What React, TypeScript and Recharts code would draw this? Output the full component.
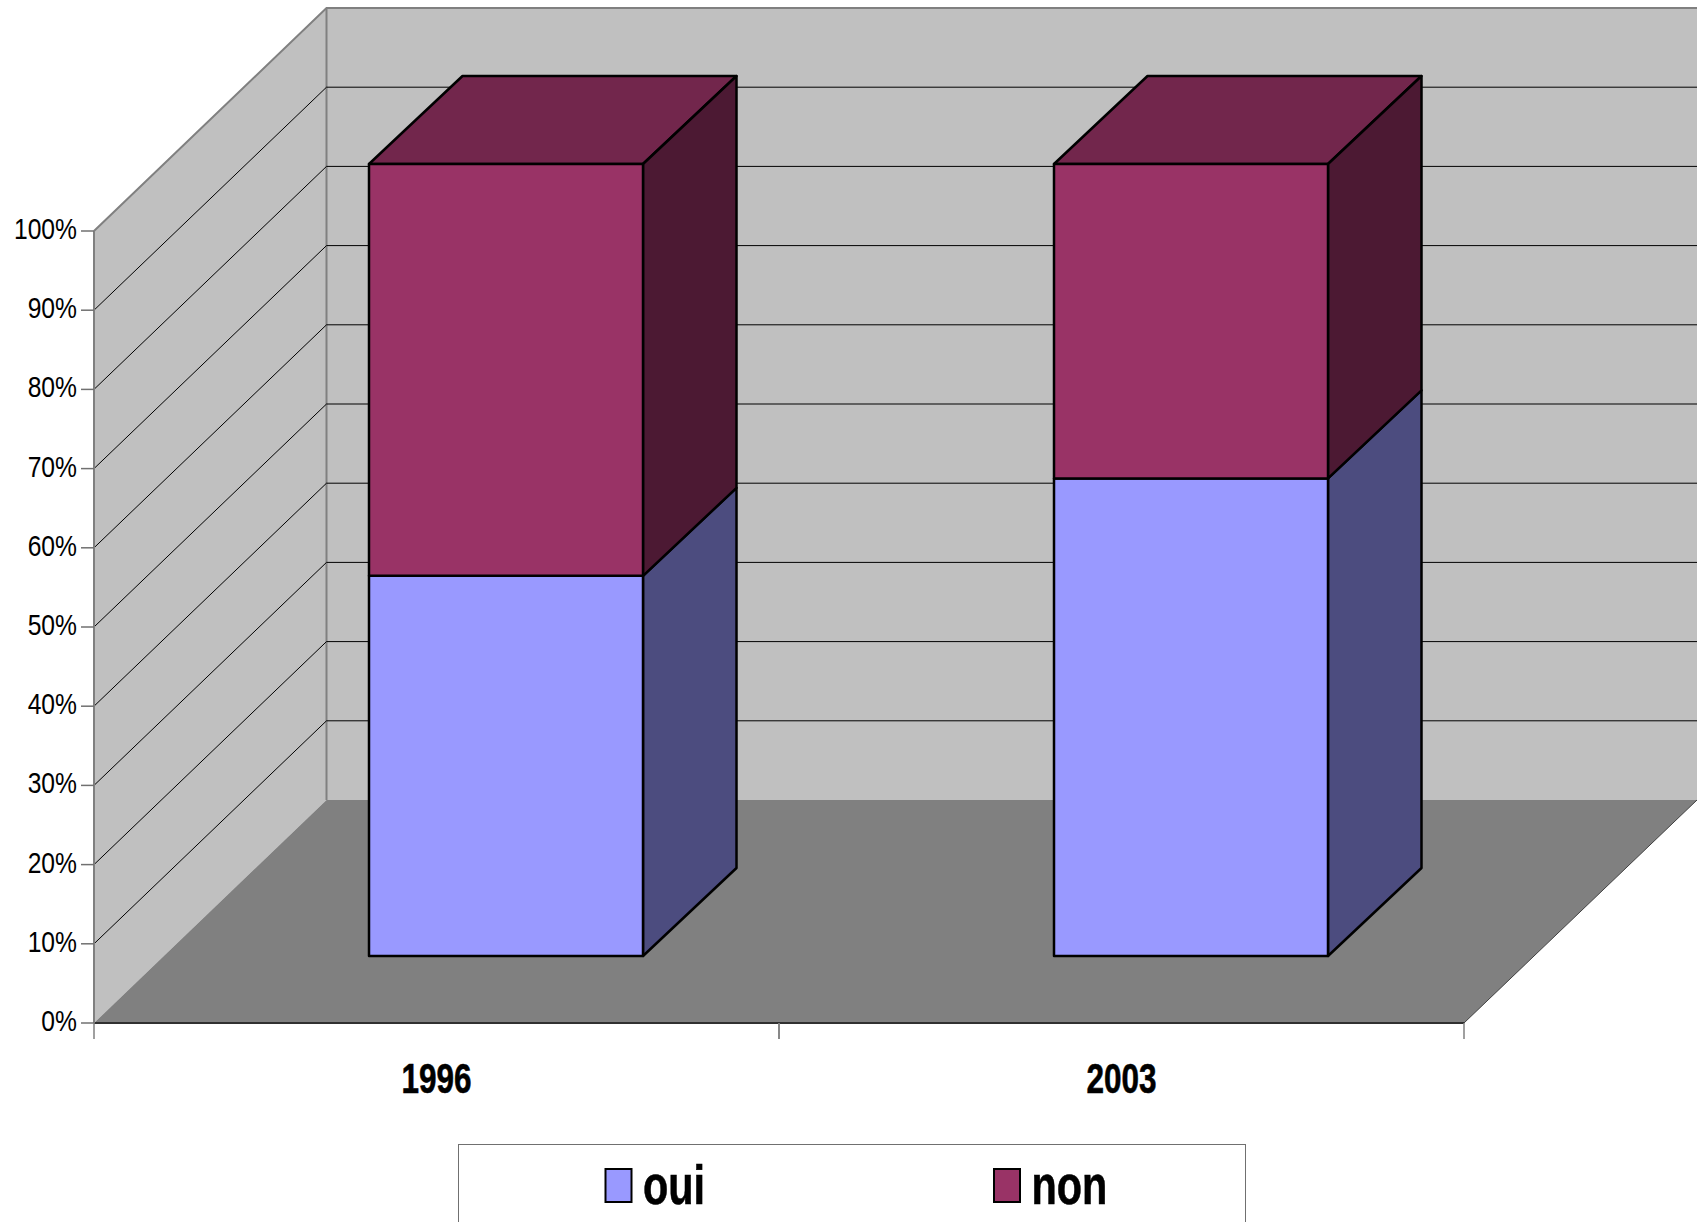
import React from "react";
import { Bar, BarChart, CartesianGrid, Legend, XAxis, YAxis } from "recharts";

const years = ["1996", "2003"];
const ouiValues = [48, 60.3];
const nonValues = [52, 39.7];
const percentTicks = [0, 10, 20, 30, 40, 50, 60, 70, 80, 90, 100];

const data = years.map((year, i) => ({ year, oui: ouiValues[i], non: nonValues[i] }));

const FONT = "'Liberation Sans', Arial, sans-serif";

// plot area = the front plane of the 3D box
const LEFT = 94;
const RIGHT = 1464;
const TOP = 231;
const BOTTOM = 1023;
const WALL_DX = 232.5;
const WALL_DY = 223;
const BAND = (RIGHT - LEFT) / years.length;

// bars stand a bit behind the front plane
const BAR_DX = 69.5;
const BAR_DY = -67;
const DEPTH_X = 93.5;
const DEPTH_Y = 88;

const pts = (list: number[][]) => list.map((p) => p.join(",")).join(" ");

// sits behind the chart svg, the grid lines have to go over it
function Walls() {
  const bx = LEFT + WALL_DX;
  const by = BOTTOM - WALL_DY;
  const ty = TOP - WALL_DY;
  return (
    <svg width={1697} height={1222} style={{ position: "absolute", left: 0, top: 0 }}>
      <polygon points={pts([[LEFT, TOP], [bx, ty], [bx, by], [LEFT, BOTTOM]])} fill="#C0C0C0" />
      <polygon points={pts([[bx, ty], [1697, ty], [1697, by], [bx, by]])} fill="#C0C0C0" />
      <polygon points={pts([[LEFT, BOTTOM], [bx, by], [1697, by], [RIGHT, BOTTOM]])} fill="#808080" />
      <line x1={RIGHT} y1={BOTTOM} x2={1697} y2={by} stroke="#404040" strokeWidth={1} />
      <polyline points={pts([[LEFT, TOP], [bx, ty], [1697, ty]])} fill="none" stroke="#808080" strokeWidth={2} />
      <line x1={bx} y1={ty} x2={bx} y2={by} stroke="#808080" strokeWidth={2} />
    </svg>
  );
}

function GridLine(props: any) {
  const { y1 } = props;
  if (Math.abs(y1 - BOTTOM) < 1 || Math.abs(y1 - TOP) < 1) return <g />;
  const bx = LEFT + WALL_DX;
  return (
    <polyline
      points={pts([[LEFT, y1], [bx, y1 - WALL_DY], [1697, y1 - WALL_DY]])}
      fill="none"
      stroke="#000"
      strokeWidth={1}
    />
  );
}

function Box(props: any) {
  const { x, y, width, height, fill, sideFill, topFill } = props;
  const fx = x + BAR_DX;
  const fy = y + BAR_DY;
  const r = fx + width;
  const b = fy + height;
  return (
    <g stroke="#000" strokeWidth={2.5} strokeLinejoin="round">
      {topFill && (
        <polygon points={pts([[fx, fy], [fx + DEPTH_X, fy - DEPTH_Y], [r + DEPTH_X, fy - DEPTH_Y], [r, fy]])} fill={topFill} />
      )}
      <polygon points={pts([[r, fy], [r + DEPTH_X, fy - DEPTH_Y], [r + DEPTH_X, b - DEPTH_Y], [r, b]])} fill={sideFill} />
      <rect x={fx} y={fy} width={width} height={height} fill={fill} />
    </g>
  );
}

function PercentTick(props: any) {
  const { x, y, payload } = props;
  return (
    <text
      transform={`translate(${x},${y + 8}) scale(0.85,1)`}
      textAnchor="end"
      fontFamily={FONT}
      fontSize={29}
      fill="#000"
    >
      {payload.value}%
    </text>
  );
}

function YearTick(props: any) {
  const { x, y, payload } = props;
  return (
    <g>
      <line x1={x - BAND / 2} y1={y} x2={x - BAND / 2} y2={y + 16} stroke="#808080" strokeWidth={1.5} />
      <line x1={x + BAND / 2} y1={y} x2={x + BAND / 2} y2={y + 16} stroke="#808080" strokeWidth={1.5} />
      <text
        transform={`translate(${x},${y + 70}) scale(0.75,1)`}
        textAnchor="middle"
        fontFamily={FONT}
        fontWeight="bold"
        fontSize={42}
        fill="#000"
        stroke="#000"
        strokeWidth={0.6}
      >
        {payload.value}
      </text>
    </g>
  );
}

function LegendBox(props: any) {
  const items = props.payload || [];
  const swatchX = [146.5, 535];
  return (
    <div
      style={{
        position: "absolute",
        left: 458,
        top: 1144,
        width: 786,
        height: 100,
        border: "1px solid #707070",
        background: "#fff",
      }}
    >
      <svg width={786} height={100} style={{ display: "block", overflow: "visible" }}>
        {items.map((item: any, i: number) => (
          <g key={item.value}>
            <rect x={swatchX[i]} y={24} width={26} height={33} fill={item.color} stroke="#000" strokeWidth={2} />
            <text
              transform={`translate(${swatchX[i] + 37.5},59) scale(0.74,1)`}
              fontFamily={FONT}
              fontWeight="bold"
              fontSize={56}
              fill="#000"
              stroke="#000"
              strokeWidth={0.6}
            >
              {item.value}
            </text>
          </g>
        ))}
      </svg>
    </div>
  );
}

export default function App() {
  return (
    <div style={{ position: "absolute", left: 0, top: 0, width: 1697, height: 1222, overflow: "hidden", background: "#fff" }}>
      <Walls />
      <BarChart
        width={1697}
        height={1222}
        data={data}
        barCategoryGap="30%"
        margin={{ top: TOP, right: 1697 - RIGHT, bottom: 0, left: 0 }}
        style={{ overflow: "visible" }}
      >
        <CartesianGrid vertical={false} horizontal={GridLine as any} />
        <XAxis
          dataKey="year"
          height={1222 - BOTTOM}
          tick={YearTick as any}
          tickLine={false}
          tickSize={0}
          tickMargin={0}
          interval={0}
          axisLine={{ stroke: "#303030", strokeWidth: 2 }}
        />
        <YAxis
          width={LEFT}
          domain={[0, 100]}
          ticks={percentTicks}
          interval={0}
          tick={PercentTick as any}
          tickSize={13}
          tickMargin={4}
          tickLine={{ stroke: "#707070", strokeWidth: 1.5 }}
          axisLine={{ stroke: "#808080", strokeWidth: 2 }}
        />
        <Bar
          dataKey="oui"
          stackId="a"
          fill="#9999FF"
          isAnimationActive={false}
          shape={(p: any) => <Box {...p} sideFill="#4C4C7F" />}
        />
        <Bar
          dataKey="non"
          stackId="a"
          fill="#993366"
          isAnimationActive={false}
          shape={(p: any) => <Box {...p} sideFill="#4C1933" topFill="#72264C" />}
        />
        <Legend
          content={LegendBox as any}
          itemSorter={null as any}
          wrapperStyle={{ position: "absolute", left: 0, top: 0, bottom: "auto", width: 0, height: 0 }}
        />
      </BarChart>
    </div>
  );
}
